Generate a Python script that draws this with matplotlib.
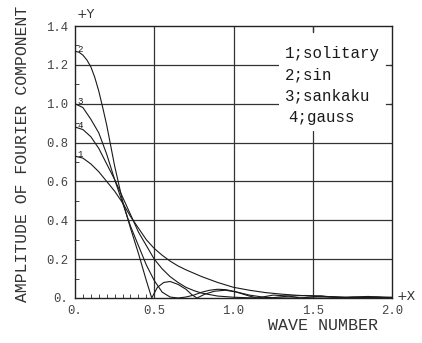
import matplotlib
matplotlib.use("Agg")
import matplotlib.pyplot as plt
from matplotlib.patches import Rectangle

# ---- data ----
x_sol = [0, 0.05, 0.1, 0.15, 0.2, 0.25, 0.3, 0.35, 0.4, 0.45, 0.5, 0.55, 0.6, 0.65, 0.7,
         0.8, 0.9, 1.0, 1.1, 1.2, 1.3, 1.4, 1.5, 1.6, 1.7, 1.8, 1.9, 2.0]
y_sol = [0.73, 0.72, 0.69, 0.65, 0.60, 0.55, 0.49, 0.42, 0.36, 0.30, 0.255, 0.22, 0.19, 0.165, 0.145,
         0.11, 0.08, 0.055, 0.04, 0.028, 0.02, 0.014, 0.01, 0.007, 0.005, 0.004, 0.003, 0.002]

x_sin = [0, 0.025, 0.05, 0.075, 0.1, 0.125, 0.15, 0.175, 0.2, 0.25, 0.3, 0.35, 0.4, 0.45, 0.484,
         0.52, 0.56, 0.6, 0.65, 0.7, 0.74, 0.77, 0.82, 0.88, 0.95, 1.02, 1.1, 1.15, 1.25, 1.35,
         1.42, 1.55, 1.68, 1.75, 1.85, 1.95, 2.0]
y_sin = [1.27, 1.265, 1.25, 1.225, 1.19, 1.135, 1.065, 0.98, 0.89, 0.68, 0.50, 0.36, 0.23, 0.09, 0.0,
         0.055, 0.08, 0.085, 0.07, 0.045, 0.015, 0.0, 0.02, 0.035, 0.04, 0.03, 0.01, 0.0, 0.015, 0.01,
         0.0, 0.01, 0.0, 0.005, 0.008, 0.002, 0.0]

x_san = [0, 0.05, 0.1, 0.15, 0.2, 0.25, 0.3, 0.35, 0.4, 0.45, 0.5, 0.55, 0.6, 0.65, 0.7, 0.75,
         0.8, 0.85, 0.9, 0.95, 1.0, 1.1, 1.2, 1.25, 1.35, 1.45, 1.55, 1.7, 1.8, 1.9, 2.0]
y_san = [1.0, 0.98, 0.92, 0.85, 0.74, 0.61, 0.49, 0.37, 0.27, 0.17, 0.09, 0.03, 0.005, 0.0, 0.005, 0.015,
         0.03, 0.04, 0.045, 0.043, 0.035, 0.015, 0.003, 0.002, 0.01, 0.013, 0.01, 0.002, 0.003, 0.006, 0.004]

x_gau = [0, 0.05, 0.1, 0.15, 0.2, 0.25, 0.3, 0.35, 0.4, 0.45, 0.5, 0.55, 0.6, 0.65, 0.7, 0.75,
         0.8, 0.9, 1.0, 1.1, 1.2, 2.0]
y_gau = [0.88, 0.867, 0.83, 0.77, 0.69, 0.61, 0.52, 0.43, 0.34, 0.27, 0.20, 0.15, 0.11, 0.08, 0.055, 0.038,
         0.025, 0.01, 0.004, 0.001, 0.0, 0.0]

legend_lines = ["1;solitary", "2;sin", "3;sankaku", "4;gauss"]
x_ticks = [0, 0.5, 1.0, 1.5, 2.0]
x_ticklabels = ["0.", "0.5", "1.0", "1.5", "2.0"]
y_ticks = [0, 0.2, 0.4, 0.6, 0.8, 1.0, 1.2, 1.4]
y_ticklabels = ["0.", "0.2", "0.4", "0.6", "0.8", "1.0", "1.2", "1.4"]

MONO = "Liberation Mono"
ink = "#1a1a1a"

fig = plt.figure(figsize=(4.22, 3.43), dpi=100)
ax = fig.add_axes([75 / 422, 1 - 298 / 343, 317 / 422, 272 / 343])
ax.set_xlim(0, 2.0)
ax.set_ylim(0, 1.4)

# grid
for yv in y_ticks[1:-1]:
    ax.axhline(yv, color="#333333", lw=0.9, zorder=1)
for xv in x_ticks[1:-1]:
    ax.axvline(xv, color="#333333", lw=0.9, zorder=1)

# blank legend area covering the grid
ax.add_patch(Rectangle((1.29, 0.86), 0.70, 0.51, facecolor="white", edgecolor="none", zorder=2))
ax.plot([1.5, 1.5], [1.37, 1.4], color="#333333", lw=0.9, zorder=3)
for yv in (1.0, 1.2):
    ax.plot([1.96, 2.0], [yv, yv], color="#333333", lw=0.9, zorder=3)

for xs, ys in ((x_sol, y_sol), (x_sin, y_sin), (x_san, y_san), (x_gau, y_gau)):
    ax.plot(xs, ys, color=ink, lw=0.8, zorder=4)

# curve numbers
for num, ys in (("1", y_sol), ("2", y_sin), ("3", y_san), ("4", y_gau)):
    ax.text(0.015, ys[0] + 0.01, num, fontsize=6.5, family=MONO, color=ink,
            ha="left", va="center", zorder=5)

# legend text
leg_y = [1.26, 1.15, 1.04, 0.93]
leg_x = [1.325, 1.325, 1.325, 1.345]
for t, lx, ly in zip(legend_lines, leg_x, leg_y):
    ax.text(lx, ly, t, fontsize=11.3, family=MONO, color=ink, ha="left", va="center", zorder=5)

for s in ax.spines.values():
    s.set_color("#222222")
    s.set_linewidth(1.0)

ax.set_xticks(x_ticks)
ax.set_xticklabels(x_ticklabels)
ax.set_yticks(y_ticks)
ax.set_yticklabels(y_ticklabels)
ax.set_xticks([i * 0.05 for i in range(1, 10)], minor=True)
ax.set_yticks([0.1, 0.3, 0.5, 0.7, 0.9, 1.1, 1.3], minor=True)
ax.tick_params(axis="both", which="major", length=0, pad=5, labelsize=8.8, labelcolor="#444444")
ax.tick_params(axis="x", which="minor", direction="in", length=3, color="#444444", width=0.7)
ax.tick_params(axis="y", which="minor", direction="in", length=3, color="#444444", width=0.7)
for lbl in ax.get_xticklabels() + ax.get_yticklabels():
    lbl.set_family(MONO)

fig.text(23 / 422, 1 - 154 / 343, "AMPLITUDE OF FOURIER COMPONENT", family=MONO, fontsize=11.8,
         color="#333333", rotation=90, ha="center", va="center")
fig.text(323 / 422, 1 - 325 / 343, "WAVE NUMBER", family=MONO, fontsize=12, color="#333333",
         ha="center", va="center")
fig.text(397 / 422, 1 - 297 / 343, "+X", family="DejaVu Sans", fontsize=9, color="#333333",
         ha="left", va="center")
fig.text(77 / 422, 1 - 15 / 343, "+Y", family="DejaVu Sans", fontsize=9, color="#333333",
         ha="left", va="center")

fig.savefig("out.png", dpi=100)
